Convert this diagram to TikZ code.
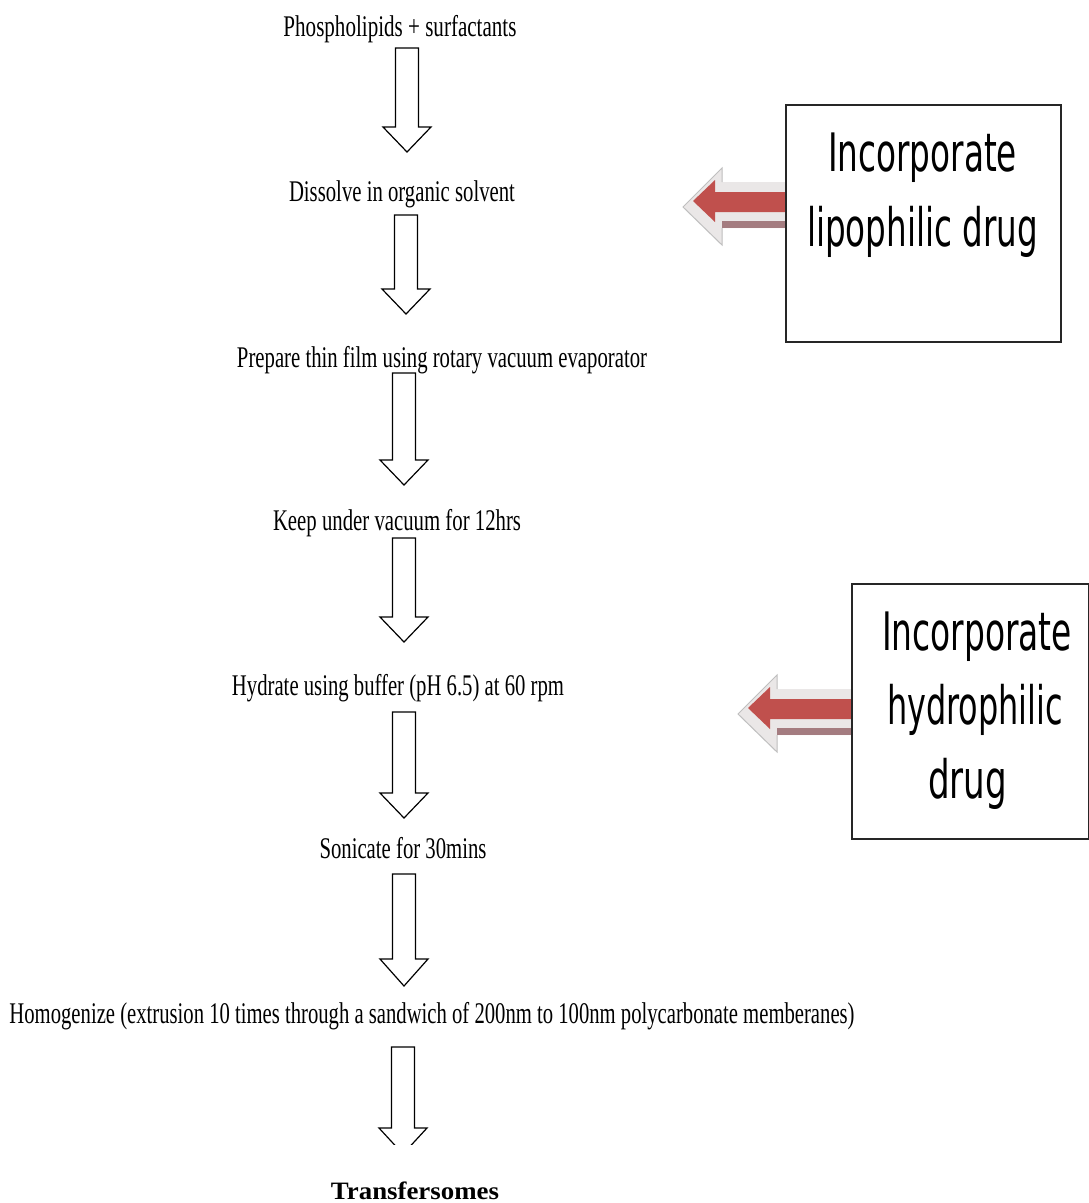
\documentclass[tikz,border=0pt]{standalone}
\usepackage{fontspec}
\usepackage{graphicx}
\setmainfont{Liberation Serif}
\newfontfamily\boxfont{DejaVu Sans}
\definecolor{arrred}{HTML}{C0504D}
\definecolor{mauve}{HTML}{A47C80}
\definecolor{shadowgray}{HTML}{EAE7E7}
\newcommand\fitw[2]{\resizebox{#1}{\height}{#2}}
% hollow down arrow: centre x, shaft top, head base, tip
\newcommand\harrow[4]{\draw[hollow] (#1-11.5,#2) -- (#1+11.5,#2) -- (#1+11.5,#3) -- (#1+24,#3) -- (#1,#4) -- (#1-24,#3) -- (#1-11.5,#3) -- cycle;}
% red left arrow: tip x, tip y, length to box
\newcommand\redarrow[3]{%
\begin{scope}[shift={(#1,#2)}]
 \fill[shadowgray] (-10,6) -- (29,-33) -- (29,-19) -- (#3,-19) -- (#3,27) -- (29,27) -- (29,44) -- cycle;
 \draw[gray!50, line width=1pt] (29,-19) -- (29,-33) -- (-10,6) -- (29,44) -- (29,27);
 \fill[mauve] (29,20) rectangle (#3,27);
 \fill[arrred] (0,0) -- (22,-21) -- (22,-9) -- (#3,-9) -- (#3,11) -- (22,11) -- (22,21) -- cycle;
\end{scope}}
\begin{document}
\begin{tikzpicture}[x=1pt,y=-1pt,
  steptext/.style={anchor=base, inner sep=0pt, font=\fontsize{30}{36}\selectfont},
  boxtext/.style={anchor=base, inner sep=0pt, font=\boxfont\fontsize{53}{64}\selectfont},
  drugbox/.style={draw=black!85, line width=1.5pt, anchor=north west, inner sep=0pt},
  hollow/.style={draw=black, line width=1.2pt, fill=white, line join=miter},
]
\useasboundingbox (0,0) rectangle (1089,1203);
\fill[white] (0,0) rectangle (1089,1203);

\node[steptext] (s1) at (400,36) {\fitw{233pt}{Phospholipids + surfactants}};
\node[steptext] (s2) at (402,201) {\fitw{226pt}{Dissolve in organic solvent}};
\node[steptext] (s3) at (442,367) {\fitw{410pt}{Prepare thin film using rotary vacuum evaporator}};
\node[steptext] (s4) at (397,530) {\fitw{248pt}{Keep under vacuum for 12hrs}};
\node[steptext] (s5) at (398,695) {\fitw{332pt}{Hydrate using buffer (pH 6.5) at 60 rpm}};
\node[steptext] (s6) at (403,858) {\fitw{167pt}{Sonicate for 30mins}};
\node[steptext] (s7) at (432,1023) {\fitw{845pt}{Homogenize (extrusion 10 times through a sandwich of 200nm to 100nm polycarbonate memberanes)}};
\node[anchor=base, inner sep=0pt, font=\bfseries\fontsize{25}{30}\selectfont] (s8) at (415,1199) {\fitw{168pt}{Transfersomes}};

\harrow{407}{48}{127}{152}
\harrow{406}{215}{289}{314}
\harrow{404}{373}{460}{485}
\harrow{404}{538}{617}{642}
\harrow{404}{712}{793}{818}
\harrow{404}{874}{959}{986}
\begin{scope}
\clip (0,0) rectangle (1089,1144);
\harrow{403}{1047}{1128}{1154}
\end{scope}

\redarrow{693}{201}{92}
\redarrow{748}{708}{103}

\node[drugbox, minimum width=275pt, minimum height=237pt] (b1) at (785,104) {};
\node[boxtext] (b1a) at (922.5,171) {\fitw{189pt}{Incorporate}};
\node[boxtext] (b1b) at (922.5,246) {\fitw{231pt}{lipophilic drug}};

\node[drugbox, minimum width=237pt, minimum height=255pt] (b2) at (851,583) {};
\node[boxtext] (b2a) at (977,650) {\fitw{190pt}{Incorporate}};
\node[boxtext] (b2b) at (975,724) {\fitw{176pt}{hydrophilic}};
\node[boxtext] (b2c) at (967.5,798) {\fitw{79pt}{drug}};
\end{tikzpicture}
\end{document}
